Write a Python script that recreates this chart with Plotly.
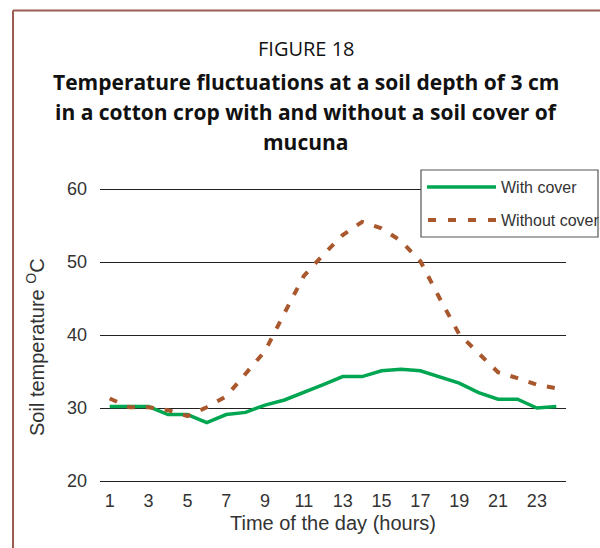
import plotly.graph_objects as go

# ---- data ----
hours = list(range(1, 25))
with_cover = [30.2, 30.2, 30.2, 29.1, 29.1, 28.0, 29.1, 29.4, 30.4, 31.1, 32.1, 33.2,
              34.3, 34.3, 35.1, 35.3, 35.1, 34.2, 33.4, 32.1, 31.2, 31.2, 30.0, 30.2]
without_cover = [31.3, 30.1, 30.1, 29.7, 28.9, 30.1, 31.6, 34.7, 37.8, 43.0, 48.1, 51.0,
                 53.7, 55.5, 54.6, 52.9, 50.1, 45.0, 40.1, 37.5, 34.9, 34.1, 33.2, 32.7]
x_ticks = list(range(1, 24, 2))
y_ticks = [20, 30, 40, 50, 60]
series_names = ["With cover", "Without cover"]

W, H = 600, 548
L, R, T, B = 100, 34, 187, 65
PAD = 2 / 7.3  # small range padding so the 20 and 60 gridlines are drawn
GREEN = "#00A651"
BROWN = "#A9572C"
TXT = "#333333"
SANS = "Liberation Sans, Arial, sans-serif"
TITLEF = "Open Sans, Noto Sans, sans-serif"


def px(x):
    return (x - L) / (W - L - R)


def py(y):
    return (H - B - y) / (H - T - B)


fig = go.Figure()
fig.add_trace(go.Scatter(x=hours, y=with_cover, mode="lines", name=series_names[0],
                         line=dict(color=GREEN, width=3.5), showlegend=False))
fig.add_trace(go.Scatter(x=hours, y=without_cover, mode="lines", name=series_names[1],
                         line=dict(color=BROWN, width=4, dash="8px,11px"), showlegend=False))

shapes = []
# outer frame (top and left)
shapes.append(dict(type="line", xref="paper", yref="paper", x0=px(13), x1=px(600),
                   y0=py(10.5), y1=py(10.5), line=dict(color="#9A5C50", width=2)))
shapes.append(dict(type="line", xref="paper", yref="paper", x0=px(13), x1=px(13),
                   y0=py(10.5), y1=py(548), line=dict(color="#9A5C50", width=2)))
# legend box
shapes.append(dict(type="rect", xref="paper", yref="paper", x0=px(421), x1=px(598),
                   y0=py(170), y1=py(237), fillcolor="white",
                   line=dict(color="#555555", width=1.2), layer="above"))
shapes.append(dict(type="line", xref="paper", yref="paper", x0=px(427), x1=px(496),
                   y0=py(187), y1=py(187), line=dict(color=GREEN, width=3.5), layer="above"))
shapes.append(dict(type="line", xref="paper", yref="paper", x0=px(428), x1=px(496),
                   y0=py(220), y1=py(220), line=dict(color=BROWN, width=4, dash="8px,12px"),
                   layer="above"))

annotations = []
annotations.append(dict(text="FIGURE 18", x=px(306), xref="paper", y=py(48), yref="paper",
                        xanchor="center", yanchor="middle", showarrow=False,
                        font=dict(family=TITLEF, size=20, color="#111")))
title_lines = ["Temperature fluctuations at a soil depth of 3 cm",
               "in a cotton crop with and without a soil cover of",
               "mucuna"]
for i, t in enumerate(title_lines):
    annotations.append(dict(text="<b>" + t + "</b>", x=px(306), xref="paper",
                            y=py(82 + 30 * i), yref="paper", xanchor="center",
                            yanchor="middle", showarrow=False,
                            font=dict(family=TITLEF, size=21, color="#111")))
annotations.append(dict(text=series_names[0], x=px(499), xref="paper", y=py(187),
                        yref="paper", xanchor="left", yanchor="middle", showarrow=False,
                        font=dict(family=SANS, size=16, color=TXT)))
annotations.append(dict(text=series_names[1], x=px(499), xref="paper", y=py(220),
                        yref="paper", xanchor="left", yanchor="middle", showarrow=False,
                        font=dict(family=SANS, size=16, color=TXT)))
# y-axis title
annotations.append(dict(text="Soil temperature <sup>O</sup>C", x=px(35), xref="paper",
                        y=py(347), yref="paper", xanchor="center", yanchor="middle",
                        textangle=-90, showarrow=False,
                        font=dict(family=SANS, size=20, color=TXT)))

fig.update_layout(
    width=W, height=H,
    margin=dict(l=L, r=R, t=T, b=B),
    paper_bgcolor="white", plot_bgcolor="white",
    shapes=shapes, annotations=annotations,
    xaxis=dict(range=[0.5, 24.5], tickmode="array", tickvals=x_ticks,
               ticktext=[str(v) for v in x_ticks], showgrid=False, zeroline=False,
               showline=False, ticks="",
               tickfont=dict(family=SANS, size=18, color=TXT), ticklabelstandoff=5,
               title=dict(text="Time of the day (hours)", standoff=5,
                          font=dict(family=SANS, size=20, color=TXT))),
    yaxis=dict(range=[20 - PAD, 60 + PAD], tickmode="array", tickvals=y_ticks,
               showgrid=True, gridcolor="#222", gridwidth=1.3, zeroline=False,
               showline=False, ticks="",
               tickfont=dict(family=SANS, size=18, color=TXT), ticklabelstandoff=12),
)

fig.write_html("out.html", config={"displayModeBar": False},
               post_script="document.body.style.margin='0';")
